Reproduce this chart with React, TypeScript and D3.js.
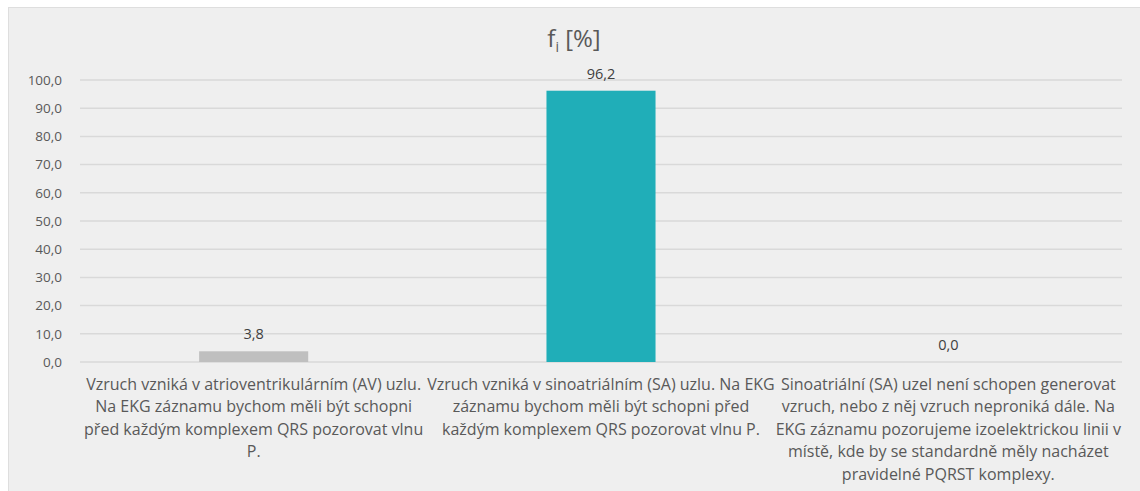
import React from "react";
import * as d3 from "d3";

const categories: string[][] = [
  [
    "Vzruch vzniká v atrioventrikulárním (AV) uzlu.",
    "Na EKG záznamu bychom měli být schopni",
    "před každým komplexem QRS pozorovat vlnu",
    "P.",
  ],
  [
    "Vzruch vzniká v sinoatriálním (SA) uzlu. Na EKG",
    "záznamu bychom měli být schopni před",
    "každým komplexem QRS pozorovat vlnu P.",
  ],
  [
    "Sinoatriální (SA) uzel není schopen generovat",
    "vzruch, nebo z něj vzruch neproniká dále. Na",
    "EKG záznamu pozorujeme izoelektrickou linii v",
    "místě, kde by se standardně měly nacházet",
    "pravidelné PQRST komplexy.",
  ],
];
const values: number[] = [3.8, 96.2, 0.0];
const barColors: string[] = ["#bfbfbf", "#20aeb8", "#20aeb8"];
const yTicks: number[] = [0, 10, 20, 30, 40, 50, 60, 70, 80, 90, 100];

const W = 1140;
const H = 491;
const left = 80;
const right = 1122;
const top = 80;
const bottom = 362;
const font = "'Open Sans', Lato, sans-serif";

export default function App() {
  const x = d3
    .scaleBand<number>()
    .domain(categories.map((_, i) => i))
    .range([left, right])
    .paddingInner(0.686)
    .paddingOuter(0.343);
  const y = d3.scaleLinear().domain([0, 100]).range([bottom, top]);
  const fmt = (v: number) => d3.format(".1f")(v).replace(".", ",");
  const step = (right - left) / categories.length;

  return (
    <svg
      width={W}
      height={H}
      style={{ position: "absolute", left: 0, top: 0, background: "#ffffff" }}
    >
      <rect x={8.5} y={7.5} width={W - 8} height={H - 7} fill="#efefef" stroke="#dedede" />
      <text x={574} y={47} textAnchor="middle" fontFamily={font} fontSize={24} fill="#595959">
        f<tspan fontSize={14} dy={5}>i</tspan>
        <tspan dy={-5}> [%]</tspan>
      </text>
      {yTicks.map((t) => (
        <g key={t}>
          <line x1={left} x2={right} y1={y(t)} y2={y(t)} stroke="#d9d9d9" strokeWidth={1.5} />
          <text
            x={62}
            y={y(t)}
            dy="0.35em"
            textAnchor="end"
            fontFamily={font}
            fontSize={13.5}
            fill="#595959"
          >
            {fmt(t)}
          </text>
        </g>
      ))}
      {values.map((v, i) => (
        <g key={i}>
          {v > 0 && (
            <rect
              x={x(i)!}
              y={y(v)}
              width={x.bandwidth()}
              height={bottom - y(v)}
              fill={barColors[i]}
            />
          )}
          <text
            x={x(i)! + x.bandwidth() / 2}
            y={y(v) - 17}
            dy="0.35em"
            textAnchor="middle"
            fontFamily={font}
            fontSize={14.5}
            fill="#404040"
          >
            {fmt(v)}
          </text>
        </g>
      ))}
      {categories.map((lines, i) => (
        <text
          key={i}
          x={left + step * i + step / 2}
          y={384}
          textAnchor="middle"
          fontFamily={font}
          fontSize={16}
          fill="#595959"
        >
          {lines.map((l, j) => (
            <tspan key={j} x={left + step * i + step / 2} y={384 + j * 22.5} dy="0.35em">
              {l}
            </tspan>
          ))}
        </text>
      ))}
    </svg>
  );
}
